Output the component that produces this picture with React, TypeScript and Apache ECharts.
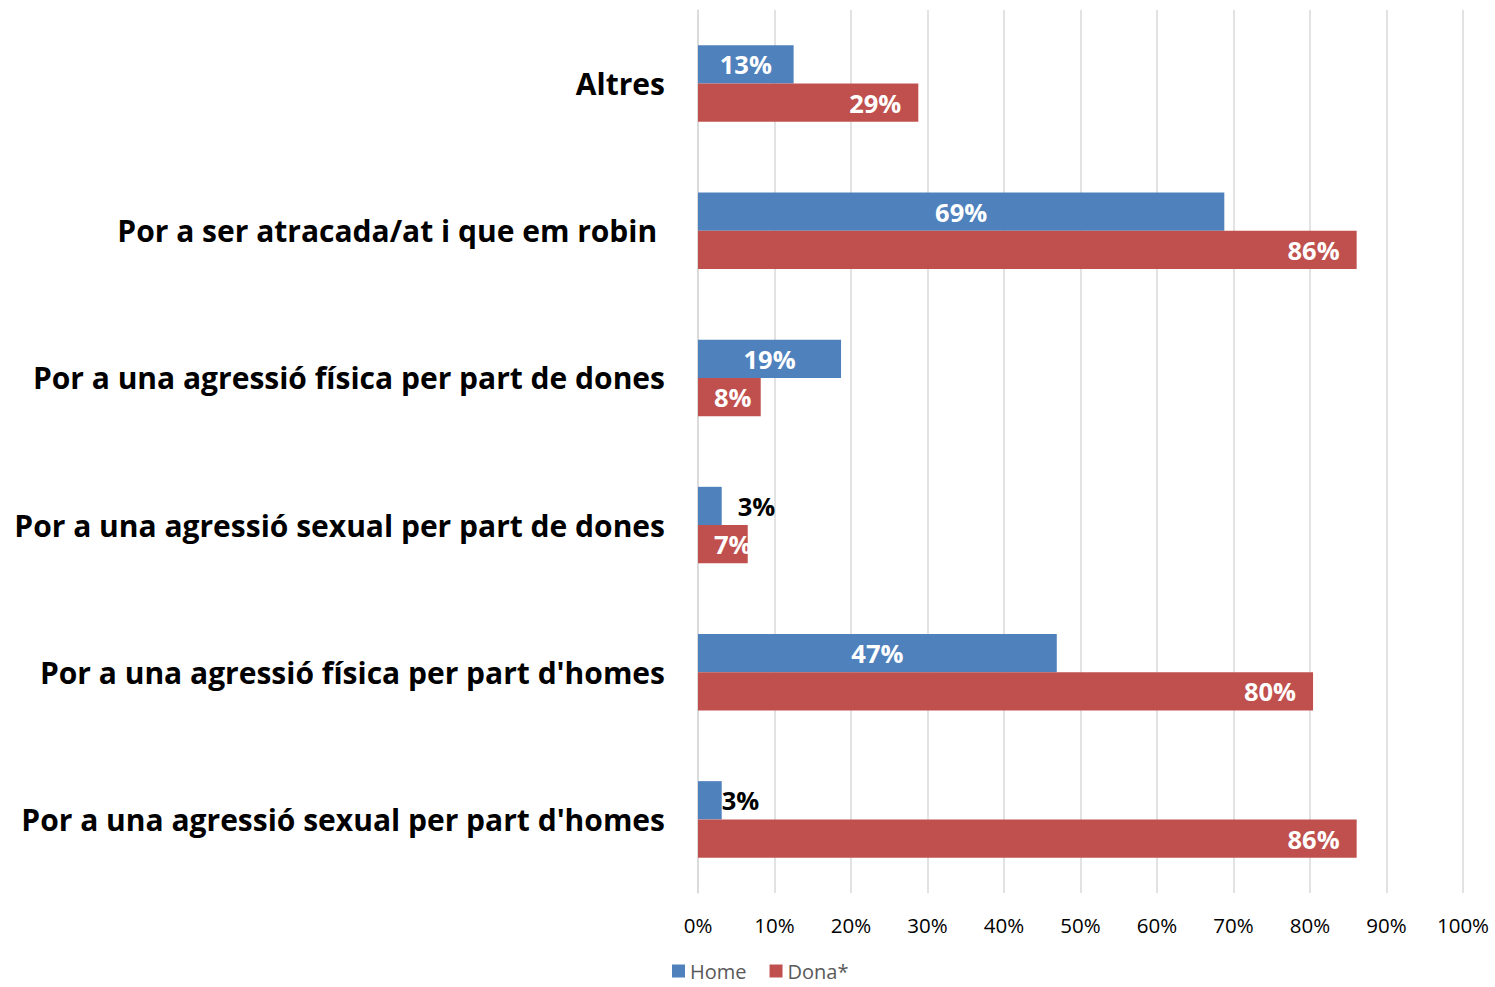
import React, { useEffect, useRef } from "react";
import * as echarts from "echarts";

const categories = [
  "Altres",
  "Por a ser atracada/at i que em robin ",
  "Por a una agressió física per part de dones",
  "Por a una agressió sexual per part de dones",
  "Por a una agressió física per part d'homes",
  "Por a una agressió sexual per part d'homes",
];
const homeValues = [12.5, 68.8, 18.7, 3.1, 46.9, 3.1];
const donaValues = [28.8, 86.1, 8.2, 6.5, 80.4, 86.1];
const xTicks = [0, 10, 20, 30, 40, 50, 60, 70, 80, 90, 100];

const FONT = "'Open Sans', 'Noto Sans', sans-serif";
const BLUE = "#4F81BD";
const RED = "#C0504D";

export default function App() {
  const ref = useRef<HTMLDivElement>(null);
  useEffect(() => {
    if (!ref.current) return;
    const chart = echarts.init(ref.current, undefined, { renderer: "svg" });
    const fmt = (p: any) => Math.round(p.value) + "%";
    const homeData = homeValues.map((v, i) => {
      if (i === 3) return { value: v, label: { position: "right", distance: 16, color: "#000" } };
      if (i === 5) return { value: v, label: { position: "right", distance: 0, color: "#000" } };
      return { value: v };
    });
    const donaData = donaValues.map((v, i) => {
      if (i === 2 || i === 3) return { value: v, label: { position: "insideLeft", distance: 16 } };
      return { value: v };
    });
    chart.setOption({
      animation: false,
      textStyle: { fontFamily: FONT },
      grid: { left: 698, right: 32, top: 10, bottom: 94, containLabel: false },
      legend: {
        top: 961,
        left: 672,
        padding: 0,
        itemWidth: 13,
        itemHeight: 13,
        itemGap: 23,
        icon: "rect",
        textStyle: { fontSize: 20, color: "#595959", fontFamily: FONT },
        data: ["Home", "Dona*"],
      },
      xAxis: {
        type: "value",
        min: 0,
        max: 100,
        interval: 10,
        axisLine: { show: false },
        axisTick: { show: false },
        splitLine: { show: true, lineStyle: { color: "#D9D9D9", width: 1.5 } },
        axisLabel: {
          margin: 21,
          fontSize: 20.5,
          color: "#000",
          fontFamily: FONT,
          formatter: (v: number) => (xTicks.includes(v) ? v + "%" : ""),
        },
      },
      yAxis: {
        type: "category",
        inverse: true,
        data: categories,
        axisLine: { show: true, lineStyle: { color: "#D9D9D9", width: 1.5 } },
        axisTick: { show: false },
        axisLabel: {
          margin: 33,
          fontSize: 30,
          fontWeight: "bold",
          color: "#000",
          fontFamily: FONT,
        },
      },
      series: [
        {
          name: "Home",
          type: "bar",
          data: homeData,
          barGap: "0%",
          barCategoryGap: "48%",
          itemStyle: { color: BLUE },
          label: {
            show: true,
            position: "inside",
            color: "#fff",
            fontSize: 25.5,
            fontWeight: "bold",
            fontFamily: FONT,
            formatter: fmt,
          },
        },
        {
          name: "Dona*",
          type: "bar",
          data: donaData,
          barGap: "0%",
          barCategoryGap: "48%",
          itemStyle: { color: RED },
          label: {
            show: true,
            position: "insideRight",
            distance: 17,
            color: "#fff",
            fontSize: 25.5,
            fontWeight: "bold",
            fontFamily: FONT,
            formatter: fmt,
          },
        },
      ],
    });
    return () => chart.dispose();
  }, []);
  return (
    <div
      ref={ref}
      style={{ position: "fixed", left: 0, top: 0, width: 1495, height: 987, background: "#fff" }}
    />
  );
}
